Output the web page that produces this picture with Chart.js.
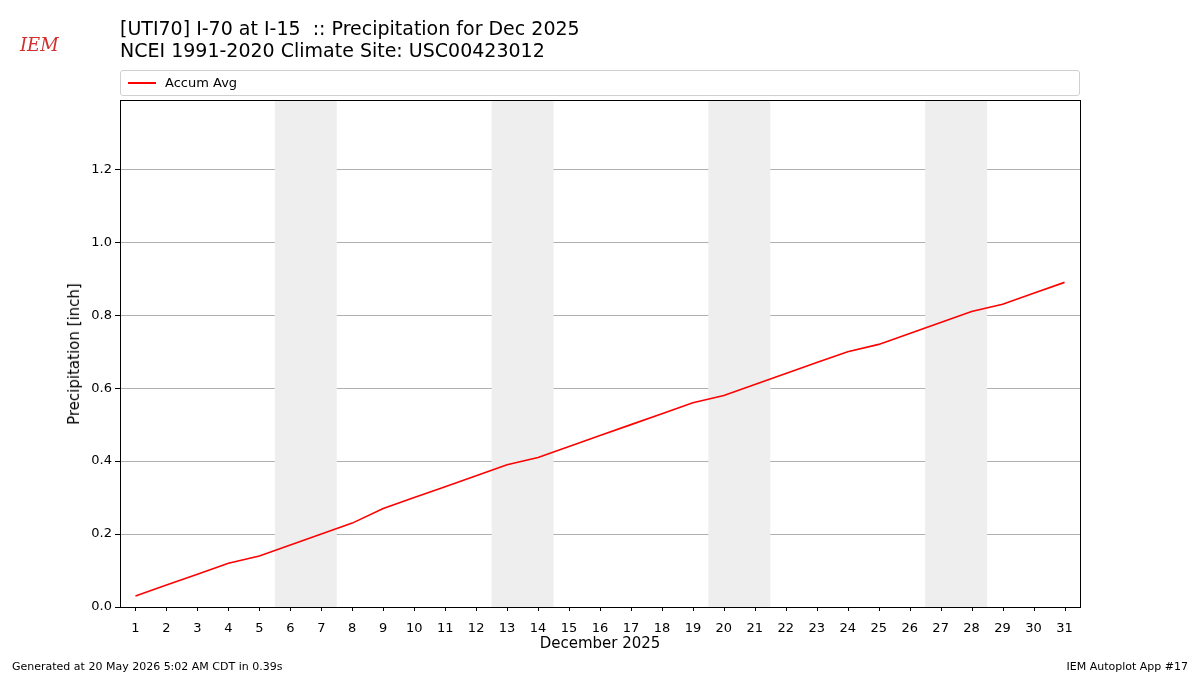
<!DOCTYPE html>
<html>
<head>
<meta charset="utf-8">
<script src="https://cdn.jsdelivr.net/npm/chart.js@4"></script>
<style>
  body { margin: 0; width: 1200px; height: 675px; position: relative; background: #fff; font-family: "DejaVu Sans", sans-serif; overflow: hidden; }
  #wrap { position: absolute; left: 0; top: 0; width: 1200px; height: 675px; }
  .title { position: absolute; left: 120px; top: 17px; font-size: 19px; line-height: 22px; color: #000; }
  .legend { position: absolute; left: 120px; top: 70px; width: 958px; height: 24px; border: 1px solid #d0d0d0; border-radius: 3px; font-size: 13px; }
  .legend .sw { position: absolute; left: 7px; top: 11px; width: 28px; height: 2px; background: red; }
  .legend .lb { position: absolute; left: 44px; top: 4px; }
  .foot { position: absolute; top: 660px; font-size: 11px; }
  .logo { position: absolute; left: 20px; top: 34px; font-family: "DejaVu Serif", serif; font-style: italic; color: #d03030; font-size: 18px; }
  .xt { position: absolute; left: 120px; width: 960px; top: 634px; text-align: center; font-size: 15px; }
  .yt { position: absolute; left: 74px; top: 354px; font-size: 15px; transform: translate(-50%, -50%) rotate(-90deg); white-space: nowrap; }
</style>
</head>
<body>
<div id="wrap"><canvas id="c" width="1200" height="675"></canvas></div>
<div class="logo">IEM</div>
<div class="title">[UTI70] I-70 at I-15&nbsp; :: Precipitation for Dec 2025<br>NCEI 1991-2020 Climate Site: USC00423012</div>
<div class="legend"><div class="sw"></div><div class="lb">Accum Avg</div></div>
<div class="xt">December 2025</div>
<div class="yt">Precipitation [inch]</div>
<div class="foot" style="left:12px">Generated at 20 May 2026 5:02 AM CDT in 0.39s</div>
<div class="foot" style="right:12px">IEM Autoplot App #17</div>
<script>
  const days = Array.from({ length: 31 }, (_, i) => i + 1);
  const accumAvg = [0.03, 0.06, 0.09, 0.12, 0.14, 0.17, 0.20, 0.23, 0.27, 0.30, 0.33, 0.36, 0.39, 0.41, 0.44,
    0.47, 0.50, 0.53, 0.56, 0.58, 0.61, 0.64, 0.67, 0.70, 0.72, 0.75, 0.78, 0.81, 0.83, 0.86, 0.89];
  const weekends = [[5.5, 7.5], [12.5, 14.5], [19.5, 21.5], [26.5, 28.5]];
  const yTicks = [0, 0.2, 0.4, 0.6, 0.8, 1.0, 1.2];

  const shade = {
    id: "shade",
    beforeDatasetsDraw(chart) {
      const { ctx, chartArea: a, scales: { x } } = chart;
      ctx.save();
      ctx.fillStyle = "#eeeeee";
      weekends.forEach(([s, e]) => {
        const x0 = x.getPixelForValue(s), x1 = x.getPixelForValue(e);
        ctx.fillRect(x0, a.top, x1 - x0, a.bottom - a.top);
      });
      ctx.restore();
    },
    afterDraw(chart) {
      const { ctx, chartArea: a, scales: { x } } = chart;
      ctx.save();
      ctx.strokeStyle = "#000";
      ctx.lineWidth = 1;
      ctx.strokeRect(a.left + 0.5, a.top + 0.5, a.right - a.left, a.bottom - a.top);
      ctx.beginPath();
      x.ticks.forEach(t => {
        const px = Math.round(x.getPixelForValue(t.value)) + 0.5;
        ctx.moveTo(px, a.bottom); ctx.lineTo(px, a.bottom + 4);
      });
      ctx.stroke();
      ctx.restore();
    }
  };

  new Chart(document.getElementById("c"), {
    type: "line",
    data: {
      datasets: [{
        data: days.map((d, i) => ({ x: d, y: accumAvg[i] })),
        borderColor: "red", borderWidth: 1.6, pointRadius: 0, tension: 0, fill: false
      }]
    },
    options: {
      responsive: false, animation: false,
      layout: { padding: { left: 0, right: 120, top: 100, bottom: 0 } },
      plugins: { legend: { display: false }, tooltip: { enabled: false } },
      scales: {
        x: {
          type: "linear", min: 0.5, max: 31.5,
          afterBuildTicks: s => { s.ticks = days.map(v => ({ value: v })); },
          afterFit: s => { s.height = 68; },
          grid: { display: false },
          border: { display: false },
          ticks: { color: "#000", font: { size: 13, family: "DejaVu Sans" }, autoSkip: false, maxRotation: 0, padding: 6 }
        },
        y: {
          min: 0, max: 1.39,
          afterBuildTicks: s => { s.ticks = yTicks.map(v => ({ value: v })); },
          afterFit: s => { s.width = 120; },
          grid: { color: "#b0b0b0", tickColor: "#000", tickLength: 5 },
          border: { display: false },
          ticks: { color: "#000", font: { size: 13, family: "DejaVu Sans" }, callback: v => v.toFixed(1) }
        }
      }
    },
    plugins: [shade]
  });
</script>
</body>
</html>
